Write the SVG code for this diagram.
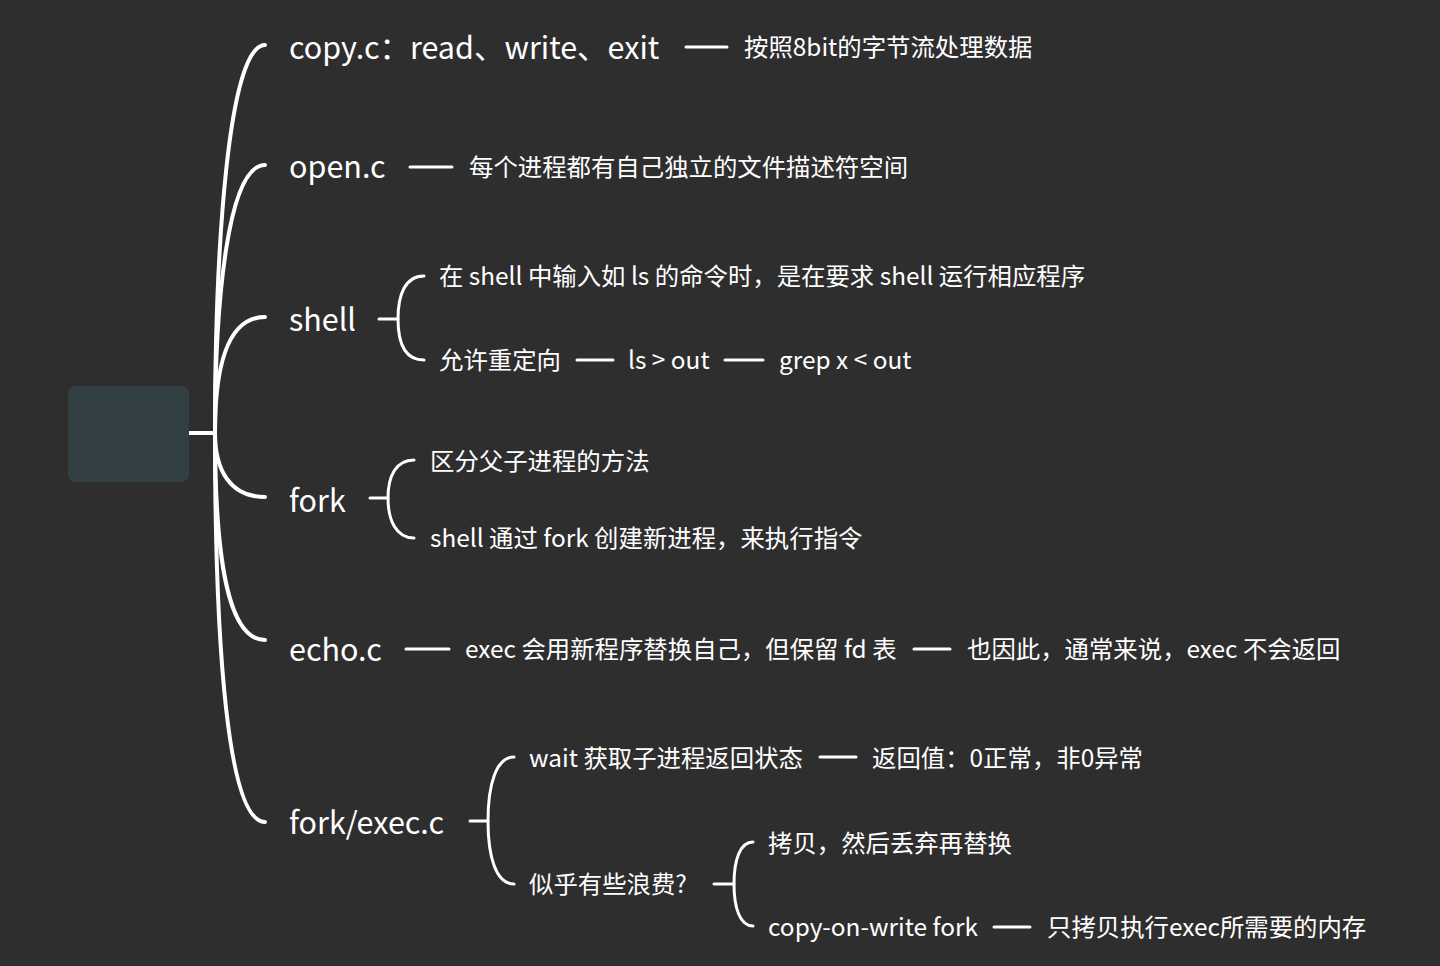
<svg xmlns="http://www.w3.org/2000/svg" width="1440" height="966" viewBox="0 0 1440 966">
<style>
.bg{fill:#2f2e2f}
.root{fill:#323f43}
.c{fill:none;stroke:#ffffff;stroke-linecap:round}
.m{stroke-width:4}
.s{stroke-width:3}
text{fill:#ffffff;font-family:"Noto Sans CJK SC","Noto Sans",sans-serif}
.t1{font-size:30.5px}
.t2{font-size:24.4px}
</style>
<rect class="bg" x="0" y="0" width="1440" height="966"/>
<g id="connectors">
<path class="c m" d="M189,433 L215,433"/>
<path class="c m" d="M215,433 C215,250 228,45 265,45"/>
<path class="c m" d="M215,433 C215,300 228,165 265,165"/>
<path class="c m" d="M215,433 C215,365 228,317 265,317"/>
<path class="c m" d="M215,433 C215,470 230,497 265,497"/>
<path class="c m" d="M215,433 C215,560 228,640 265,640"/>
<path class="c m" d="M215,433 C215,650 228,822 265,822"/>
<path class="c s" d="M686,47 L727,47"/>
<path class="c s" d="M410,167 L452,167"/>
<path class="c s" d="M379,319 L398,319"/>
<path class="c s" d="M424,276 C405,276 398,295 398,319 C398,343 405,360 424,360"/>
<path class="c s" d="M577,360 L613,360"/>
<path class="c s" d="M725,360 L763,360"/>
<path class="c s" d="M370,498 L388,498"/>
<path class="c s" d="M414,460 C396,460 388,476 388,498 C388,520 396,538 414,538"/>
<path class="c s" d="M406,649 L449,649"/>
<path class="c s" d="M914,649 L950,649"/>
<path class="c s" d="M470,821 L488,821"/>
<path class="c s" d="M514,757 C496,757 488,785 488,821 C488,857 496,884 514,884"/>
<path class="c s" d="M820,757 L856,757"/>
<path class="c s" d="M714,884 L734,884"/>
<path class="c s" d="M753,842 C740,842 734,860 734,884 C734,908 740,926 753,926"/>
<path class="c s" d="M994,927 L1030,927"/>
</g>
<g id="root"><rect class="root" x="68" y="386" width="121" height="96" rx="8"/></g>
<g id="copy"><text class="t1" x="289" y="59">copy.c：read、write、exit</text></g>
<g id="copy-1"><text class="t2" x="744" y="56">按照8bit的字节流处理数据</text></g>
<g id="open"><text class="t1" x="289" y="178">open.c</text></g>
<g id="open-1"><text class="t2" x="469" y="176">每个进程都有自己独立的文件描述符空间</text></g>
<g id="shell"><text class="t1" x="289" y="331">shell</text></g>
<g id="shell-1"><text class="t2" x="439" y="285">在 shell 中输入如 ls 的命令时，是在要求 shell 运行相应程序</text></g>
<g id="shell-2"><text class="t2" x="439" y="369">允许重定向</text></g>
<g id="shell-3"><text class="t2" x="628" y="369">ls &gt; out</text></g>
<g id="shell-4"><text class="t2" x="779" y="369">grep x &lt; out</text></g>
<g id="fork"><text class="t1" x="289" y="512">fork</text></g>
<g id="fork-1"><text class="t2" x="430" y="470">区分父子进程的方法</text></g>
<g id="fork-2"><text class="t2" x="430" y="547">shell 通过 fork 创建新进程，来执行指令</text></g>
<g id="echo"><text class="t1" x="289" y="661">echo.c</text></g>
<g id="echo-1"><text class="t2" x="465" y="658">exec 会用新程序替换自己，但保留 fd 表</text></g>
<g id="echo-2"><text class="t2" x="967" y="658">也因此，通常来说，exec 不会返回</text></g>
<g id="forkexec"><text class="t1" x="289" y="834">fork/exec.c</text></g>
<g id="fe-1"><text class="t2" x="529" y="767">wait 获取子进程返回状态</text></g>
<g id="fe-2"><text class="t2" x="872" y="767">返回值：0正常，非0异常</text></g>
<g id="fe-3"><text class="t2" x="529" y="893">似乎有些浪费?</text></g>
<g id="fe-4"><text class="t2" x="768" y="852">拷贝，然后丢弃再替换</text></g>
<g id="fe-5"><text class="t2" x="768" y="936">copy-on-write fork</text></g>
<g id="fe-6"><text class="t2" x="1047" y="936">只拷贝执行exec所需要的内存</text></g>
</svg>
